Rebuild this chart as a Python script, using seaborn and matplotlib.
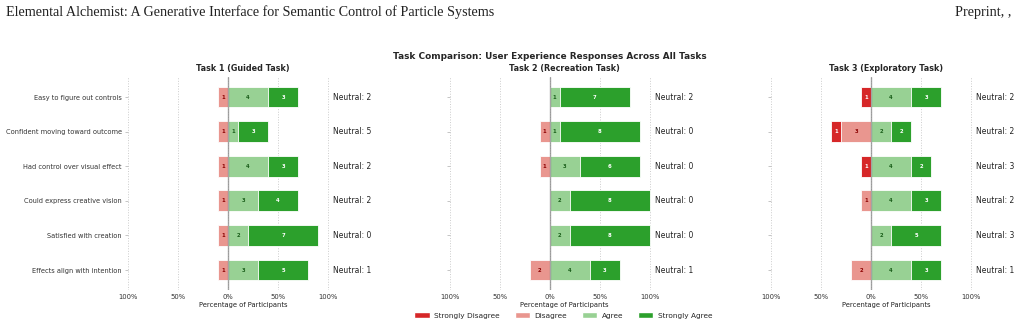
import matplotlib
matplotlib.use("Agg")
import matplotlib.pyplot as plt
import seaborn as sns
import pandas as pd
import numpy as np
from matplotlib.patches import Patch

questions = ["Easy to figure out controls", "Confident moving toward outcome",
             "Had control over visual effect", "Could express creative vision",
             "Satisfied with creation", "Effects align with intention"]
task_titles = ["Task 1 (Guided Task)", "Task 2 (Recreation Task)", "Task 3 (Exploratory Task)"]
n_participants = 10

# counts per question for each task
t1_sd = [0, 0, 0, 0, 0, 0]
t1_d = [1, 1, 1, 1, 1, 1]
t1_n = [2, 5, 2, 2, 0, 1]
t1_a = [4, 1, 4, 3, 2, 3]
t1_sa = [3, 3, 3, 4, 7, 5]

t2_sd = [0, 0, 0, 0, 0, 0]
t2_d = [0, 1, 1, 0, 0, 2]
t2_n = [2, 0, 0, 0, 0, 1]
t2_a = [1, 1, 3, 2, 2, 4]
t2_sa = [7, 8, 6, 8, 8, 3]

t3_sd = [1, 1, 1, 0, 0, 0]
t3_d = [0, 3, 0, 1, 0, 2]
t3_n = [2, 2, 3, 2, 3, 1]
t3_a = [4, 2, 4, 4, 2, 4]
t3_sa = [3, 2, 2, 3, 5, 3]

tasks = [
    (t1_sd, t1_d, t1_n, t1_a, t1_sa),
    (t2_sd, t2_d, t2_n, t2_a, t2_sa),
    (t3_sd, t3_d, t3_n, t3_a, t3_sa),
]

categories = ["Strongly Disagree", "Disagree", "Agree", "Strongly Agree"]
colors = {"Strongly Disagree": "#d62728", "Disagree": "#e9968f",
          "Agree": "#98d194", "Strongly Agree": "#2ca02c"}
text_colors = {"Strongly Disagree": "white", "Disagree": "#8b0000",
               "Agree": "#1a5e1a", "Strongly Agree": "white"}
xticks = [-100, -50, 0, 50, 100]

sns.set_theme(style="whitegrid")
plt.rcParams['font.family'] = ['DejaVu Sans']

fig, axes = plt.subplots(1, 3, figsize=(10.17, 3.26), dpi=100, sharey=True)
fig.subplots_adjust(left=0.1259, right=0.9843, top=0.764, bottom=0.110, wspace=0.398)

for ax, (sd, d, neu, a, sa), title in zip(axes, tasks, task_titles):
    pct = lambda v: np.array(v) * 100.0 / n_participants
    sd_p, d_p, a_p, sa_p = pct(sd), pct(d), pct(a), pct(sa)
    df = pd.DataFrame({
        "question": questions,
        "neg_outer": -(sd_p + d_p),
        "neg_inner": -d_p,
        "pos_outer": a_p + sa_p,
        "pos_inner": a_p,
    })
    layers = [("neg_outer", "Strongly Disagree"), ("neg_inner", "Disagree"),
              ("pos_outer", "Strongly Agree"), ("pos_inner", "Agree")]
    for col, cat in layers:
        sns.barplot(data=df, x=col, y="question", orient="h", color=colors[cat],
                    width=0.6, errorbar=None, edgecolor="white", linewidth=0.6,
                    saturation=1, ax=ax, zorder=2)
    # segment labels
    for i in range(len(questions)):
        segs = [("Strongly Disagree", -(sd_p[i] + d_p[i]), sd[i]),
                ("Disagree", -d_p[i], d[i]),
                ("Agree", 0, a[i]),
                ("Strongly Agree", a_p[i], sa[i])]
        for cat, start, cnt in segs:
            if cnt > 0:
                w = cnt * 100.0 / n_participants
                ax.text(start + w / 2, i, str(cnt), ha="center", va="center",
                        fontsize=3.8, fontweight="bold", color=text_colors[cat], zorder=4)
        ax.text(105, i, f"Neutral: {neu[i]}", ha="left", va="center", fontsize=5.5,
                color="#222222")
    ax.axvline(0, color="gray", lw=1, alpha=0.7, zorder=3)
    ax.set_xlim(-100, 130)
    ax.set_ylim(5.58, -0.58)
    ax.set_xticks(xticks)
    ax.set_xticklabels([f"{abs(t)}%" for t in xticks], fontsize=4.9, color="#333333")
    ax.set_xlabel("Percentage of Participants", fontsize=4.9, color="#222222", labelpad=1.5)
    ax.set_ylabel("")
    ax.set_title(title, fontsize=5.8, fontweight="bold", pad=4.5)
    ax.grid(axis="y", visible=False)
    ax.grid(axis="x", linestyle=":", color="#cccccc", linewidth=0.7)
    for s in ax.spines.values():
        s.set_visible(False)
    ax.tick_params(axis="y", left=True, length=2.5, width=0.6, color="#bbbbbb",
                   labelsize=4.8, labelcolor="#333333", pad=2)
    ax.tick_params(axis="x", length=0, pad=3)

fig.suptitle("Task Comparison: User Experience Responses Across All Tasks",
             x=0.541, y=0.84, fontsize=6.4, fontweight="bold")

handles = [Patch(facecolor=colors[c], edgecolor="white", label=c) for c in categories]
fig.legend(handles=handles, loc="center", bbox_to_anchor=(0.554, 0.032), ncol=4,
           frameon=False, fontsize=5.3, handlelength=2.1, columnspacing=2.0,
           handleheight=0.8, handletextpad=0.6)

fig.text(0.006, 0.962, "Elemental Alchemist: A Generative Interface for Semantic Control of Particle Systems",
         fontsize=10.2, family="Liberation Serif", ha="left", va="center", color="#222222")
fig.text(0.994, 0.962, "Preprint, ,", fontsize=10.2, family="Liberation Serif",
         ha="right", va="center", color="#222222")

fig.savefig("out.png", dpi=100)
